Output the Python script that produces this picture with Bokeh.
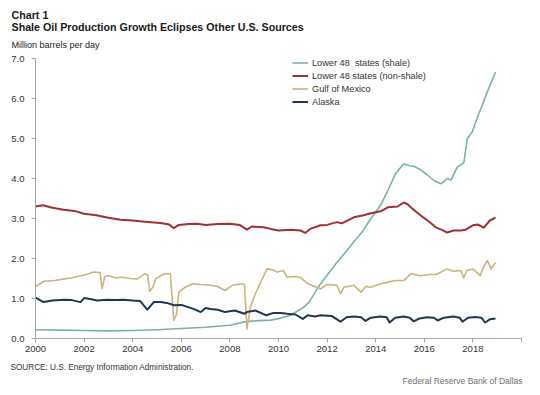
from bokeh.plotting import figure
from bokeh.models import Label, Legend, LegendItem, FixedTicker, Range1d
from bokeh.embed import file_html
from bokeh.resources import INLINE

# ---------------- data (million barrels per day) ----------------
shale_year = [2000.0, 2001.0, 2002.0, 2003.0, 2004.0, 2005.0, 2006.0, 2007.0, 2008.0,
              2008.56, 2009.0, 2009.67, 2010.1, 2010.5, 2011.03, 2011.26, 2011.73, 2012.0,
              2012.4, 2012.75, 2013.1, 2013.44, 2013.8, 2014.2, 2014.5, 2014.8, 2014.95,
              2015.15, 2015.4, 2015.6, 2015.84, 2016.1, 2016.4, 2016.67, 2016.8, 2016.94,
              2017.1, 2017.35, 2017.63, 2017.77, 2017.97, 2018.24, 2018.4, 2018.59, 2018.75,
              2018.93]
shale_val = [0.22, 0.21, 0.20, 0.19, 0.20, 0.22, 0.25, 0.28, 0.33,
             0.41, 0.44, 0.46, 0.51, 0.58, 0.78, 0.91, 1.37, 1.58,
             1.90, 2.15, 2.42, 2.66, 3.00, 3.33, 3.70, 4.10, 4.22,
             4.37, 4.32, 4.30, 4.22, 4.10, 3.95, 3.87, 3.92, 4.00,
             3.96, 4.28, 4.40, 5.00, 5.16, 5.62, 5.85, 6.16, 6.40,
             6.66]

nonshale_year = [2000.0, 2000.3, 2000.7, 2001.16, 2001.6, 2002.0, 2002.5, 2003.0, 2003.5,
                 2004.0, 2004.5, 2005.14, 2005.5, 2005.69, 2005.9, 2006.3, 2006.65, 2007.0,
                 2007.5, 2008.0, 2008.4, 2008.7, 2008.9, 2009.4, 2009.67, 2010.0, 2010.5,
                 2010.9, 2011.1, 2011.3, 2011.73, 2012.0, 2012.4, 2012.6, 2013.1, 2013.5,
                 2013.8, 2014.2, 2014.5, 2014.9, 2015.16, 2015.3, 2015.5, 2015.84, 2016.2,
                 2016.5, 2016.7, 2016.94, 2017.2, 2017.5, 2017.7, 2018.0, 2018.2, 2018.45,
                 2018.7, 2018.93]
nonshale_val = [3.30, 3.33, 3.27, 3.22, 3.19, 3.12, 3.08, 3.02, 2.97,
                2.95, 2.92, 2.89, 2.85, 2.76, 2.84, 2.86, 2.87, 2.84,
                2.86, 2.87, 2.84, 2.72, 2.80, 2.78, 2.74, 2.70, 2.72,
                2.70, 2.64, 2.74, 2.83, 2.84, 2.91, 2.88, 3.03, 3.08,
                3.13, 3.18, 3.28, 3.30, 3.40, 3.36, 3.25, 3.08, 2.92,
                2.77, 2.72, 2.65, 2.70, 2.70, 2.72, 2.83, 2.85, 2.77,
                2.95, 3.02]

gulf_year = [2000.0, 2000.34, 2000.8, 2001.2, 2001.5, 2001.85, 2002.1, 2002.4, 2002.65,
             2002.74, 2002.85, 2003.0, 2003.3, 2003.6, 2003.9, 2004.2, 2004.5, 2004.62,
             2004.7, 2004.85, 2004.94, 2005.3, 2005.55, 2005.69, 2005.8, 2005.9, 2006.2,
             2006.5, 2006.8, 2007.2, 2007.5, 2007.8, 2008.1, 2008.5, 2008.6, 2008.7,
             2008.85, 2009.05, 2009.3, 2009.53, 2009.75, 2009.95, 2010.2, 2010.36, 2010.6,
             2010.9, 2011.2, 2011.5, 2011.73, 2012.0, 2012.4, 2012.55, 2012.7, 2013.1,
             2013.4, 2013.6, 2013.8, 2014.1, 2014.5, 2014.8, 2015.16, 2015.45, 2015.84,
             2016.2, 2016.5, 2016.94, 2017.2, 2017.5, 2017.62, 2017.75, 2018.0, 2018.3,
             2018.45, 2018.6, 2018.75, 2018.93]
gulf_val = [1.30, 1.43, 1.45, 1.49, 1.52, 1.57, 1.60, 1.66, 1.65,
            1.25, 1.55, 1.57, 1.52, 1.53, 1.50, 1.49, 1.62, 1.58,
            1.18, 1.30, 1.49, 1.62, 1.62, 0.45, 0.60, 1.16, 1.30,
            1.37, 1.35, 1.33, 1.30, 1.20, 1.33, 1.37, 1.35, 0.24,
            0.80, 1.12, 1.45, 1.74, 1.72, 1.66, 1.70, 1.53, 1.55,
            1.53, 1.37, 1.30, 1.24, 1.35, 1.33, 1.12, 1.28, 1.33,
            1.16, 1.30, 1.28, 1.35, 1.41, 1.45, 1.45, 1.62, 1.57,
            1.60, 1.60, 1.74, 1.68, 1.70, 1.52, 1.70, 1.74, 1.57,
            1.80, 1.95, 1.74, 1.90]

alaska_year = [2000.0, 2000.33, 2000.7, 2001.16, 2001.5, 2001.85, 2002.0, 2002.3, 2002.54,
               2002.95, 2003.3, 2003.6, 2004.0, 2004.3, 2004.6, 2004.87, 2005.14, 2005.4,
               2005.7, 2006.0, 2006.5, 2006.8, 2007.0, 2007.2, 2007.5, 2007.8, 2008.2,
               2008.6, 2008.7, 2009.05, 2009.5, 2009.8, 2010.1, 2010.36, 2010.7, 2011.0,
               2011.2, 2011.5, 2011.73, 2012.2, 2012.55, 2012.8, 2013.1, 2013.4, 2013.58,
               2013.8, 2014.2, 2014.45, 2014.57, 2014.8, 2015.16, 2015.4, 2015.56, 2015.8,
               2016.1, 2016.4, 2016.55, 2016.8, 2017.2, 2017.45, 2017.57, 2017.8, 2018.1,
               2018.35, 2018.5, 2018.7, 2018.93]
alaska_val = [1.02, 0.91, 0.95, 0.97, 0.96, 0.91, 1.01, 0.98, 0.95,
              0.97, 0.96, 0.97, 0.95, 0.94, 0.72, 0.91, 0.91, 0.89,
              0.83, 0.84, 0.74, 0.66, 0.76, 0.74, 0.72, 0.66, 0.70,
              0.62, 0.66, 0.70, 0.58, 0.64, 0.64, 0.62, 0.60, 0.49,
              0.58, 0.55, 0.58, 0.56, 0.42, 0.53, 0.55, 0.53, 0.44,
              0.52, 0.55, 0.53, 0.40, 0.52, 0.55, 0.52, 0.43, 0.50,
              0.53, 0.52, 0.45, 0.52, 0.55, 0.52, 0.42, 0.52, 0.54,
              0.52, 0.40, 0.48, 0.50]

series_names = ["Lower 48  states (shale)", "Lower 48 states (non-shale)",
                "Gulf of Mexico", "Alaska"]

x_ticks = [2000, 2002, 2004, 2006, 2008, 2010, 2012, 2014, 2016, 2018, 2020]
x_tick_labels = ["2000", "2002", "2004", "2006", "2008", "2010", "2012", "2014",
                 "2016", "2018", ""]
y_ticks = [0, 1, 2, 3, 4, 5, 6, 7]
y_tick_labels = ["0.0", "1.0", "2.0", "3.0", "4.0", "5.0", "6.0", "7.0"]

chart_label = "Chart 1"
chart_title = "Shale Oil Production Growth Eclipses Other U.S. Sources"
unit_label = "Million barrels per day"
source_text = "SOURCE: U.S. Energy Information Administration."
credit_text = "Federal Reserve Bank of Dallas"

# ---------------- layout / styling ----------------
FONT = "Liberation Sans"
colors = ["#78B3A7", "#A2302C", "#CDB27E", "#1E3757"]
widths = [1.6, 2.0, 1.6, 2.0]
W, H = 540, 395
X0, X1 = 2000, 2020          # axis extent
Y0, Y1 = 0, 7
AX_LEFT, AX_RIGHT = 35, 521  # axis box in canvas pixels
AX_TOP, AX_BOTTOM = 58, 338

# ranges chosen so the whole canvas is the plotting frame, axes sit at the box
ppx = (AX_RIGHT - AX_LEFT) / (X1 - X0)
ppy = (AX_BOTTOM - AX_TOP) / (Y1 - Y0)
x_range = Range1d(X0 - AX_LEFT / ppx, X1 + (W - AX_RIGHT) / ppx)
y_range = Range1d(Y0 - (H - AX_BOTTOM) / ppy, Y1 + AX_TOP / ppy)

p = figure(width=W, height=H, output_backend="svg", toolbar_location=None,
           x_range=x_range, y_range=y_range, min_border=0,
           min_border_left=0, min_border_right=0, min_border_top=0,
           min_border_bottom=0)
p.outline_line_color = None
p.xgrid.visible = False
p.ygrid.visible = False
p.background_fill_color = "white"
p.border_fill_color = "white"

series = [(shale_year, shale_val), (nonshale_year, nonshale_val),
          (gulf_year, gulf_val), (alaska_year, alaska_val)]
renderers = {}
for i in range(4):
    xs, ys = series[i]
    renderers[i] = p.line(xs, ys, line_color=colors[i], line_width=widths[i],
                          line_join="round")

p.xaxis.ticker = FixedTicker(ticks=x_ticks)
p.xaxis.major_label_overrides = {t: l for t, l in zip(x_ticks, x_tick_labels)}
p.xaxis.fixed_location = Y0
p.xaxis.bounds = (X0, X1)
p.yaxis.ticker = FixedTicker(ticks=y_ticks)
p.yaxis.major_label_overrides = {t: l for t, l in zip(y_ticks, y_tick_labels)}
p.yaxis.fixed_location = X0
p.yaxis.bounds = (Y0, Y1)
for ax in (p.xaxis, p.yaxis):
    ax.axis_line_color = "#A6A6A6"
    ax.major_tick_line_color = "#A6A6A6"
    ax.minor_tick_line_color = None
    ax.major_tick_in = 0
    ax.major_tick_out = 4
    ax.major_label_text_font = FONT
    ax.major_label_text_font_size = "9.5px"
    ax.major_label_text_color = "#333333"
p.xaxis.major_label_standoff = 3
p.yaxis.major_label_standoff = 7

items = [LegendItem(label=series_names[i], renderers=[renderers[i]]) for i in range(4)]
legend = Legend(items=items, location=(292, H - 108), padding=0, spacing=0,
                glyph_width=16, glyph_height=13, label_height=13, label_standoff=4,
                label_text_font=FONT, label_text_font_size="9.2px",
                label_text_color="#333333", background_fill_alpha=0,
                border_line_alpha=0, margin=0)
p.add_layout(legend)


def add_text(txt, x, y_from_top, size, style="normal", color="#1a1a1a", align="left"):
    p.add_layout(Label(x=x, y=H - y_from_top, x_units="screen", y_units="screen",
                       text=txt, text_font=FONT, text_font_size=size,
                       text_font_style=style, text_color=color, text_align=align,
                       text_baseline="middle"))


add_text(chart_label, 11, 14, "10.7px", "bold")
add_text(chart_title, 11, 26, "10.7px", "bold")
add_text(unit_label, 11, 44, "9px")
add_text(source_text, 10, 367, "8.2px", color="#333333")
add_text(credit_text, 522, 380, "8.5px", color="#6E6E6E", align="right")

open("out.html", "w").write(file_html(p, INLINE))
